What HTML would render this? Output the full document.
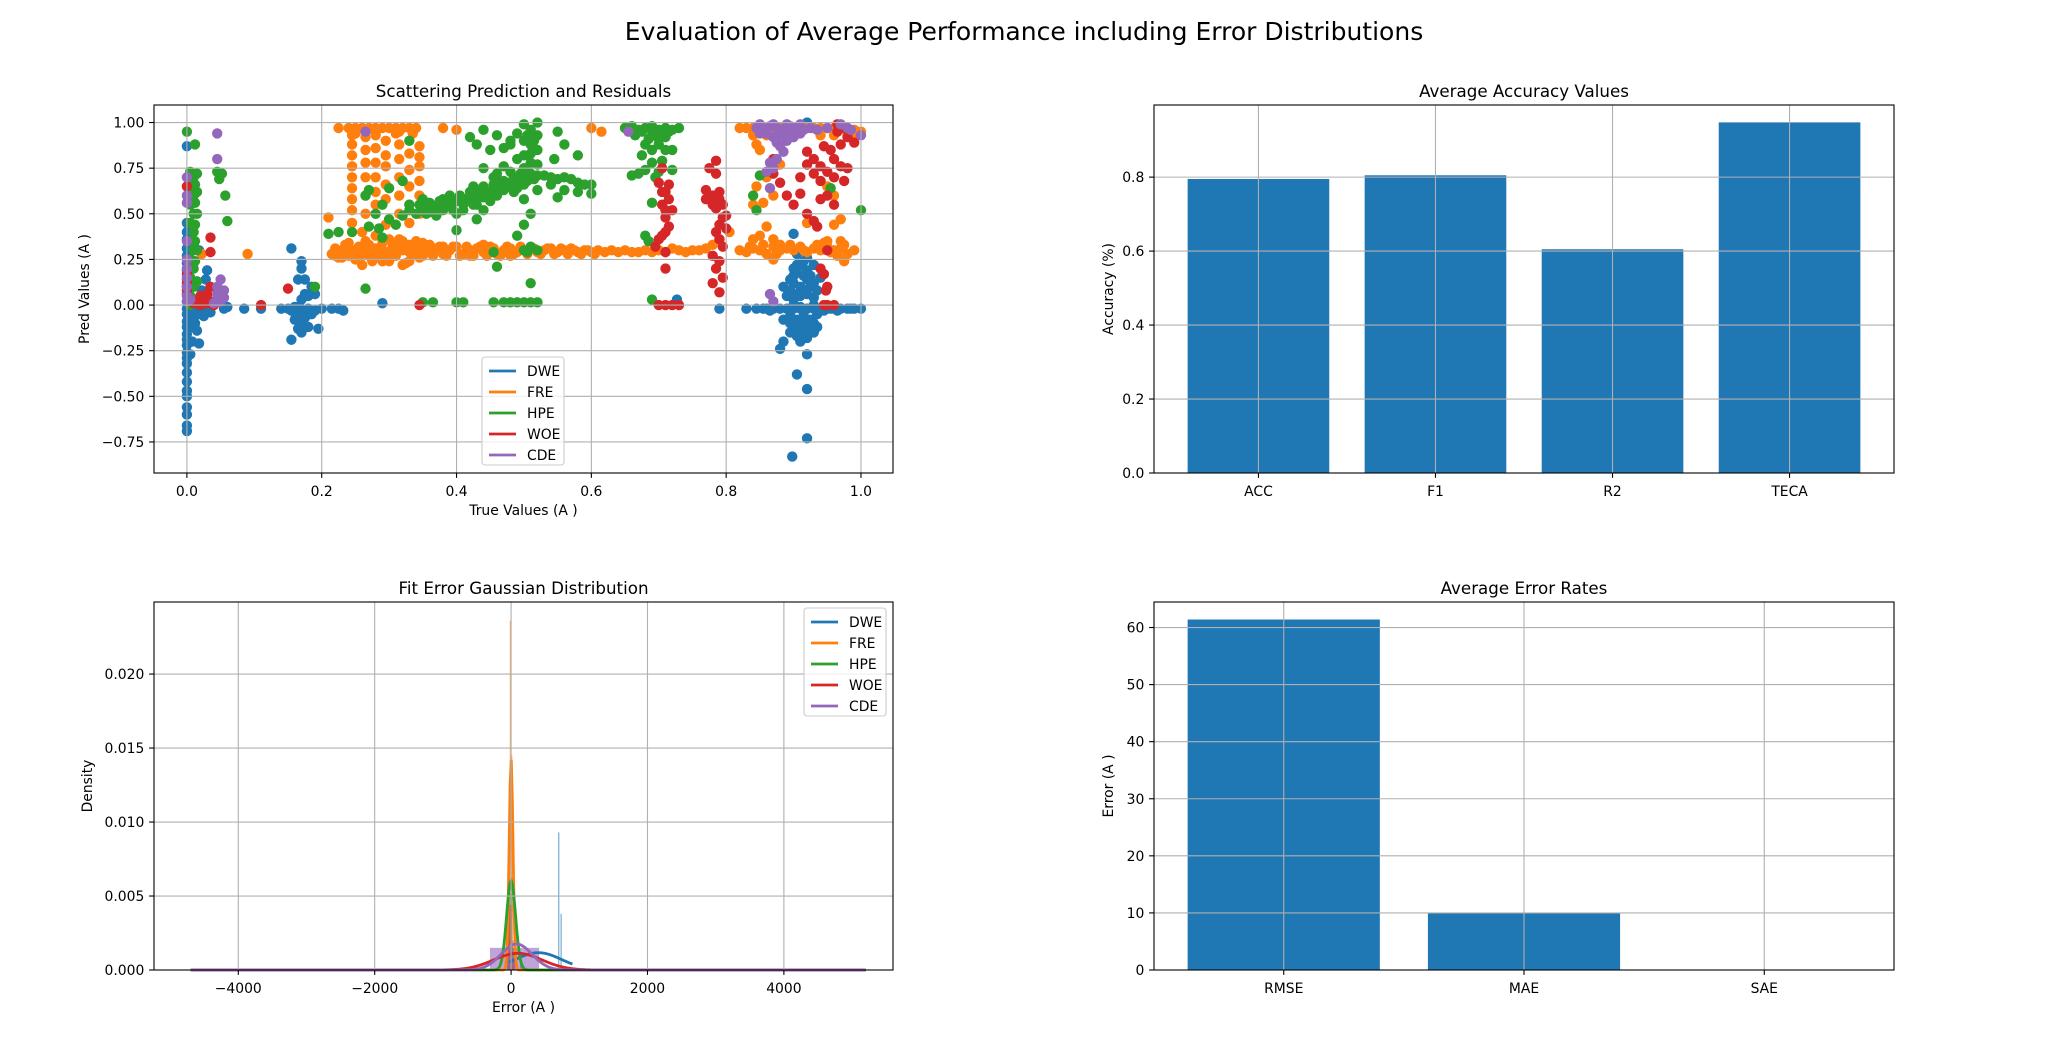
<!DOCTYPE html>
<html><head><meta charset="utf-8"><style>
html,body{margin:0;padding:0;background:#fff;}
svg{display:block;font-family:"DejaVu Sans","Liberation Sans",sans-serif;}
</style></head><body>
<svg id="fig" width="2048" height="1049" viewBox="0 0 2048 1049" xmlns="http://www.w3.org/2000/svg">
<rect width="2048" height="1049" fill="#fff"/>
<text x="1024" y="40" font-size="25" text-anchor="middle">Evaluation of Average Performance including Error Distributions</text>
<g id="ax1"></g>
<g id="ax2"></g>
<g id="ax3"></g>
<g id="ax4"></g>
</svg>
<script>
const NS="http://www.w3.org/2000/svg";
const COLORS=["#1f77b4","#ff7f0e","#2ca02c","#d62728","#9467bd"];
const seriesNames=["DWE","FRE","HPE","WOE","CDE"];

// ---- scatter data ----
const dwePts=[[0,-0.69],[0,-0.66],[0,-0.6],[0,-0.56],[0,-0.5],[0,-0.47],[0,-0.42],[0,-0.37],[0,-0.32],[0,-0.29],[0,-0.26],[0,-0.22],[0,-0.19],[0,-0.16],[0,-0.12],[0,-0.09],[0,-0.05],[0,-0.02],[0,0.02],[0,0.06],[0,0.1],[0,0.14],[0,0.19],[0,0.23],[0,0.27],[0,0.31],[0,0.36],[0,0.4],[0,0.45],[0,0.87],
[0.008,-0.04],[0.012,-0.1],[0.015,-0.14],[0.02,-0.05],[0.025,-0.06],[0.03,-0.03],[0.035,-0.04],[0.018,-0.21],[0.008,-0.2],[0.022,0.08],[0.03,0.19],[0.028,0.14],[0.018,0.3],[0.01,0.33],[0.005,-0.27],[0.01,-0.08],[0.006,-0.12],[0.015,-0.02],
[0.055,-0.02],[0.06,-0.01],[0.085,-0.02],[0.11,-0.02],
[0.14,-0.02],[0.15,-0.02],[0.16,-0.01],[0.17,-0.02],[0.18,-0.02],[0.19,-0.03],[0.2,-0.02],[0.155,-0.03],[0.165,-0.05],[0.16,-0.08],[0.17,-0.1],[0.165,-0.13],[0.17,-0.15],[0.155,-0.19],[0.18,-0.12],[0.17,0.03],[0.175,0.06],[0.165,0.14],[0.175,0.14],[0.17,0.2],[0.17,0.24],[0.155,0.31],[0.185,0.1],[0.19,0.06],[0.195,-0.13],[0.18,0.05],[0.175,-0.03],[0.165,-0.01],[0.16,-0.04],[0.175,-0.07],[0.185,-0.05],
[0.215,-0.02],[0.225,-0.02],[0.232,-0.03],[0.29,0.01],[0.727,0.03],[0.79,-0.02],
[0.83,-0.02],[0.845,-0.02],[0.86,-0.02],[0.87,-0.02],[0.88,-0.02],[0.89,-0.02],[0.9,-0.02],[0.91,-0.02],[0.92,-0.02],[0.93,-0.02],[0.94,-0.02],[0.95,-0.02],[0.96,-0.02],[0.97,-0.02],[0.98,-0.02],[0.99,-0.02],[1.0,-0.02],[0.855,-0.02],[0.865,-0.03],[0.945,-0.03],[0.955,-0.02],[0.965,-0.03],[0.985,-0.02],
[0.9,0.2],[0.91,0.22],[0.92,0.19],[0.9,0.12],[0.91,0.1],[0.92,0.14],[0.93,0.12],[0.89,0.05],[0.9,0.03],[0.91,0.05],[0.92,0.06],[0.93,0.04],[0.895,-0.06],[0.905,-0.08],[0.915,-0.06],[0.925,-0.08],[0.9,-0.12],[0.91,-0.14],[0.92,-0.11],[0.93,-0.1],[0.905,-0.17],[0.885,-0.2],[0.88,-0.24],[0.91,-0.2],[0.92,-0.18],[0.93,-0.15],[0.935,-0.05],[0.9,0.16],[0.92,0.26],[0.93,0.22],[0.9,0.39],[0.905,0.28],[0.94,0.15],[0.92,0.17],[0.905,-0.38],[0.92,-0.46],[0.92,-0.73],[0.898,-0.83],[0.92,-0.27],[0.92,1.0],[0.9,0.0],[0.91,-0.01],[0.92,-0.02],[0.93,0.0],[0.94,-0.03],
[0.895,0.08],[0.905,0.06],[0.915,0.08],[0.925,0.1],[0.895,0.14],[0.905,0.18],[0.915,0.16],[0.925,0.16],[0.895,-0.1],[0.905,-0.13],[0.915,-0.1],[0.925,-0.13],[0.935,-0.12],[0.895,-0.15],[0.915,-0.16],[0.885,-0.08],[0.885,0.1],[0.935,0.08],[0.905,0.22],[0.915,0.24]];
const frePts=[[0.215,0.28],[0.22,0.31],[0.225,0.26],[0.23,0.3],[0.235,0.33],[0.24,0.27],[0.245,0.3],[0.25,0.25],[0.255,0.32],[0.26,0.28],[0.265,0.35],[0.27,0.3],[0.275,0.24],[0.28,0.31],[0.285,0.27],[0.29,0.34],[0.295,0.29],[0.3,0.24],[0.305,0.32],[0.31,0.27],[0.315,0.36],[0.32,0.3],[0.325,0.23],[0.33,0.33],[0.335,0.28],[0.34,0.31],[0.345,0.26],[0.35,0.3],[0.36,0.29],[0.37,0.31],[0.38,0.28],[0.39,0.3],[0.4,0.32],[0.41,0.28],[0.42,0.3],[0.43,0.31],[0.44,0.29],[0.45,0.32],[0.46,0.28],[0.47,0.3],[0.48,0.31],[0.49,0.29],[0.5,0.3],[0.51,0.31],[0.52,0.29],[0.53,0.3],[0.54,0.31],[0.55,0.29],[0.56,0.3],[0.57,0.31],[0.58,0.29],[0.59,0.3],[0.6,0.29],[0.61,0.3],[0.62,0.29],[0.63,0.3],[0.64,0.29],[0.65,0.3],[0.66,0.29],[0.67,0.29],[0.68,0.3],[0.69,0.29],[0.7,0.3],[0.71,0.29],[0.72,0.31],[0.73,0.3],[0.74,0.29],[0.75,0.3],[0.76,0.3],[0.77,0.31],[0.78,0.33],[0.79,0.36],[0.805,0.4],
[0.365,0.27],[0.375,0.32],[0.385,0.27],[0.395,0.32],[0.405,0.27],[0.415,0.32],[0.425,0.27],[0.435,0.32],[0.445,0.27],[0.455,0.31],[0.465,0.27],[0.475,0.32],[0.485,0.28],[0.495,0.32],[0.505,0.28],[0.515,0.31],[0.525,0.28],[0.535,0.31],[0.545,0.28],[0.555,0.31],[0.565,0.28],[0.575,0.3],[0.585,0.28],[0.595,0.3],[0.605,0.28],
[0.23,0.26],[0.26,0.22],[0.3,0.36],[0.33,0.24],[0.28,0.38],[0.31,0.33],[0.24,0.34],[0.35,0.27],[0.26,0.4],[0.32,0.22],[0.29,0.24],[0.27,0.33],[0.36,0.33],[0.38,0.32],[0.42,0.27],[0.44,0.33],[0.48,0.27],[0.22,0.27],[0.25,0.29],[0.27,0.27],[0.29,0.3],[0.31,0.3],[0.33,0.29],[0.34,0.35],[0.32,0.35],[0.3,0.27],[0.28,0.26],[0.26,0.32],[0.24,0.3],[0.35,0.34],
[0.245,0.45],[0.245,0.52],[0.245,0.58],[0.245,0.64],[0.245,0.7],[0.245,0.76],[0.245,0.82],[0.245,0.88],[0.245,0.93],
[0.265,0.5],[0.265,0.6],[0.265,0.7],[0.265,0.78],[0.265,0.85],[0.265,0.92],
[0.28,0.55],[0.28,0.62],[0.28,0.7],[0.28,0.78],[0.28,0.86],[0.28,0.93],
[0.295,0.44],[0.295,0.58],[0.295,0.66],[0.295,0.76],[0.295,0.82],[0.295,0.9],
[0.315,0.5],[0.315,0.6],[0.315,0.7],[0.315,0.8],[0.315,0.88],[0.315,0.95],
[0.33,0.45],[0.33,0.55],[0.33,0.65],[0.33,0.74],[0.33,0.83],
[0.345,0.5],[0.345,0.6],[0.345,0.68],[0.345,0.76],[0.345,0.81],[0.345,0.87],
[0.225,0.97],[0.24,0.97],[0.25,0.97],[0.26,0.97],[0.27,0.97],[0.28,0.97],[0.29,0.97],[0.3,0.97],[0.31,0.97],[0.32,0.97],[0.33,0.97],[0.34,0.97],[0.25,0.94],[0.28,0.94],[0.31,0.94],[0.335,0.94],
[0.21,0.48],[0.38,0.97],[0.4,0.96],[0.6,0.97],[0.615,0.95],[0.09,0.28],[0.022,0.28],[0.65,0.97],
[0.82,0.3],[0.83,0.29],[0.84,0.31],[0.85,0.3],[0.86,0.28],[0.87,0.32],[0.88,0.3],[0.89,0.31],[0.9,0.3],[0.91,0.32],[0.92,0.29],[0.93,0.31],[0.94,0.3],[0.95,0.32],[0.96,0.3],[0.97,0.31],[0.98,0.28],[0.99,0.3],[0.975,0.24],[0.965,0.27],[0.85,0.38],[0.84,0.36],[0.87,0.36],[0.88,0.33],[0.86,0.43],[0.87,0.25],[0.95,0.35],[0.97,0.35],[0.96,0.44],[0.92,0.45],[0.97,0.47],[0.96,0.6],[0.95,0.65],[0.84,0.55],[0.845,0.65],[0.86,0.7],[0.855,0.56],[0.87,0.6],[0.88,0.77],
[0.835,0.32],[0.855,0.33],[0.875,0.28],[0.895,0.33],[0.915,0.3],[0.935,0.33],[0.955,0.29],[0.975,0.33],[0.945,0.34],
[0.82,0.97],[0.83,0.97],[0.84,0.97],[0.85,0.97],[0.86,0.97],[0.87,0.97],[0.88,0.97],[0.89,0.97],[0.9,0.97],[0.91,0.97],[0.92,0.97],[0.93,0.97],[0.94,0.97],[0.95,0.97],[0.96,0.97],[0.97,0.97],[0.98,0.97],[0.99,0.96],[1.0,0.95],
[0.84,0.93],[0.86,0.93],[0.9,0.93],[0.94,0.93],[0.96,0.93],[0.98,0.93],[0.99,0.93],[0.845,0.88],[0.85,0.85]];
const hpePts=[[0.005,0.0],[0.005,0.05],[0.01,0.1],[0.005,0.15],[0.01,0.2],[0.005,0.25],[0.01,0.3],[0.005,0.35],[0.01,0.4],[0.005,0.45],[0.01,0.5],[0.005,0.55],[0.01,0.6],[0.005,0.65],[0.01,0.7],[0.005,0.73],[0.015,0.72],[0.015,0.5],[0.015,0.3],[0.015,0.13],[0.0,0.95],[0.012,0.88],[0.015,0.62],[0.012,0.35],[0.012,0.44],[0.012,0.56],[0.012,0.66],[0.012,0.24],
[0.045,0.73],[0.052,0.72],[0.048,0.69],[0.057,0.6],[0.06,0.46],
[0.19,0.1],[0.21,0.39],[0.225,0.4],[0.245,0.4],[0.265,0.09],[0.27,0.63],[0.265,0.6],[0.28,0.5],[0.27,0.43],[0.285,0.42],[0.29,0.37],[0.3,0.64],[0.3,0.47],[0.29,0.55],[0.32,0.68],[0.33,0.9],[0.31,0.44],
[0.32,0.49],[0.33,0.52],[0.34,0.5],[0.35,0.53],[0.36,0.51],[0.37,0.54],[0.38,0.52],[0.39,0.55],[0.4,0.57],[0.41,0.55],[0.42,0.58],[0.43,0.6],[0.44,0.59],[0.45,0.62],[0.46,0.64],[0.47,0.63],[0.48,0.67],[0.49,0.69],[0.5,0.7],[0.51,0.72],[0.52,0.71],[0.35,0.58],[0.37,0.49],[0.39,0.6],[0.41,0.52],[0.43,0.55],[0.45,0.57],[0.47,0.68],[0.49,0.64],[0.44,0.65],[0.4,0.5],[0.36,0.56],[0.33,0.55],[0.38,0.58],[0.42,0.62],[0.46,0.6],[0.5,0.66],[0.48,0.73],[0.46,0.72],[0.44,0.75],[0.47,0.76],
[0.345,0.55],[0.355,0.5],[0.365,0.54],[0.375,0.57],[0.385,0.55],[0.395,0.52],[0.405,0.6],[0.415,0.58],[0.425,0.55],[0.435,0.63],[0.445,0.62],[0.455,0.66],[0.465,0.67],[0.475,0.65],[0.485,0.7],[0.495,0.72],[0.505,0.68],[0.515,0.69],[0.425,0.65],[0.455,0.7],[0.485,0.62],
[0.53,0.71],[0.54,0.7],[0.55,0.69],[0.56,0.7],[0.57,0.69],[0.58,0.67],[0.59,0.66],[0.6,0.66],[0.54,0.66],[0.56,0.63],[0.58,0.62],[0.52,0.63],[0.55,0.59],[0.6,0.61],
[0.51,0.78],[0.5,0.82],[0.52,0.85],[0.51,0.88],[0.5,0.9],[0.52,0.93],[0.51,0.96],[0.5,0.99],[0.52,1.0],[0.49,0.94],[0.48,0.9],[0.47,0.86],[0.49,0.8],[0.5,0.58],[0.51,0.5],[0.5,0.44],[0.49,0.38],[0.51,0.32],[0.5,0.3],[0.48,0.88],[0.46,0.93],[0.44,0.96],[0.45,0.85],[0.43,0.88],[0.42,0.92],[0.55,0.95],[0.56,0.88],[0.58,0.82],[0.545,0.8],[0.51,0.83],[0.52,0.77],[0.505,0.93],[0.515,0.9],[0.5,0.75],
[0.4,0.41],[0.43,0.47],[0.44,0.52],[0.455,0.29],[0.46,0.21],[0.51,0.12],
[0.35,0.015],[0.365,0.015],[0.4,0.015],[0.41,0.015],[0.455,0.015],[0.47,0.015],[0.48,0.015],[0.49,0.015],[0.5,0.015],[0.51,0.015],[0.52,0.015],
[0.65,0.97],[0.66,0.98],[0.67,0.96],[0.68,0.97],[0.69,0.98],[0.7,0.96],[0.71,0.97],[0.72,0.96],[0.73,0.97],[0.665,0.93],[0.69,0.93],[0.71,0.92],[0.68,0.88],[0.69,0.85],[0.675,0.82],[0.69,0.78],[0.68,0.74],[0.67,0.72],[0.66,0.71],[0.7,0.73],[0.71,0.85],[0.7,0.88],[0.72,0.85],[0.705,0.79],[0.695,0.7],[0.69,0.56],[0.68,0.38],[0.685,0.35],[0.69,0.03],[0.72,0.74],[0.675,0.95],[0.695,0.95],[0.715,0.95],[0.685,0.91],[0.7,0.91],
[0.84,0.6],[0.845,0.52],[0.85,0.71],[1.0,0.52],[0.955,0.64],[0.505,0.29],[0.52,0.3]];
const woePts=[[0.0,0.65],[0.0,0.17],[0.0,0.12],[0.0,0.08],[0.005,0.03],[0.01,0.01],[0.015,0.02],[0.02,0.0],[0.025,0.03],[0.03,0.01],[0.035,0.02],[0.04,0.0],[0.02,0.05],[0.03,0.06],[0.035,0.29],[0.035,0.37],[0.035,0.1],
[0.11,0.0],[0.15,0.09],[0.345,0.0],
[0.7,0.0],[0.71,0.0],[0.72,0.0],[0.73,0.0],[0.705,0.75],[0.7,0.67],[0.71,0.62],[0.715,0.58],[0.705,0.55],[0.72,0.52],[0.71,0.48],[0.715,0.43],[0.705,0.38],[0.7,0.36],[0.71,0.29],[0.695,0.32],[0.71,0.2],[0.71,0.4],[0.705,0.62],[0.715,0.66],[0.71,0.52],
[0.785,0.79],[0.775,0.75],[0.785,0.72],[0.77,0.63],[0.78,0.6],[0.79,0.58],[0.77,0.58],[0.785,0.53],[0.795,0.48],[0.79,0.44],[0.8,0.42],[0.79,0.36],[0.795,0.32],[0.78,0.27],[0.79,0.24],[0.785,0.2],[0.795,0.15],[0.78,0.12],[0.79,0.07],[0.8,0.49],[0.785,0.4],[0.78,0.55],[0.79,0.62],[0.795,0.55],
[0.87,0.8],[0.87,0.72],[0.88,0.67],[0.89,0.6],[0.9,0.55],[0.91,0.7],[0.92,0.77],[0.93,0.8],[0.94,0.76],[0.95,0.73],[0.96,0.8],[0.97,0.88],[0.98,0.92],[0.99,0.89],[0.93,0.72],[0.94,0.68],[0.95,0.6],[0.91,0.61],[0.92,0.5],[0.93,0.46],[0.935,0.43],[0.96,0.7],[0.97,0.76],[0.98,0.75],[0.975,0.68],[0.955,0.85],[0.945,0.87],[0.965,0.95],[0.92,0.84],[0.94,0.58],[0.96,0.55],[0.95,0.3],[0.945,0.17],[0.94,0.2],[0.95,0.1],[0.948,0.08],[0.95,0.0],[0.96,0.0],[0.945,0.0],[0.975,0.97],[0.965,0.99]];
const cdePts=[[0.0,0.7],[0.0,0.6],[0.0,0.56],[0.0,0.35],[0.0,0.25],[0.0,0.2],[0.0,0.15],[0.0,0.1],[0.0,0.05],[0.0,0.02],[0.005,0.03],
[0.045,0.94],[0.045,0.8],[0.05,0.14],[0.045,0.1],[0.05,0.07],[0.055,0.04],[0.045,0.03],[0.04,0.01],[0.05,0.02],[0.055,0.08],[0.045,0.06],
[0.265,0.95],[0.655,0.95],
[0.845,0.97],[0.855,0.96],[0.865,0.98],[0.875,0.97],[0.885,0.96],[0.895,0.98],[0.905,0.97],[0.915,0.96],[0.925,0.97],[0.86,0.94],[0.87,0.92],[0.88,0.93],[0.89,0.9],[0.9,0.92],[0.88,0.87],[0.885,0.84],[0.875,0.8],[0.865,0.78],[0.87,0.75],[0.86,0.73],[0.935,0.96],[0.95,0.97],[0.97,0.99],[0.98,0.97],[1.0,0.93],[0.985,0.96],[0.865,0.64],[0.865,0.06],[0.87,0.02],[0.89,0.94],[0.91,0.94],
[0.85,0.99],[0.87,0.99],[0.89,0.99],[0.91,0.99],[0.85,0.94],[0.875,0.89],[0.895,0.95],[0.905,0.94],[0.88,0.96],[0.86,0.96]];
const scatterXTicks=[0,0.2,0.4,0.6,0.8,1.0];
const scatterYTicks=[-0.75,-0.5,-0.25,0,0.25,0.5,0.75,1.0];

// ---- accuracy bars ----
const accCats=["ACC","F1","R2","TECA"];
const accVals=[0.795,0.805,0.605,0.948];
const accTicks=[0,0.2,0.4,0.6,0.8];
// ---- error bars ----
const errCats=["RMSE","MAE","SAE"];
const errVals=[61.4,9.9,0.0];
const errTicks=[0,10,20,30,40,50,60];
// ---- gaussian fit ----
const fitMeans=[400,0,0,100,80];
const fitStds=[341,28,66,353,227];
const fitFrom=[-30,-4700,-4700,-4700,-4700];
const fitTo=[900,5200,5200,5200,5200];
const histLefts=[[130,690,725],[-40,-20,-8,0,20],[-60,-20,20],[-60,-20,20],[-310,-70,170]];
const histWidths=[[25,12,12],[20,12,8,20,20],[40,40,40],[40,40,40],[240,240,240]];
const histHeights=[[0.0012,0.0093,0.0038],[0.002,0.0236,0.0145,0.0145,0.002],[0.0052,0.0052,0.0015],[0.0044,0.0044,0.0008],[0.0015,0.0015,0.0015]];
const kdeXTicks=[-4000,-2000,0,2000,4000];
const kdeYTicks=[0,0.005,0.010,0.015,0.020];

function el(tag,attrs,parent){const e=document.createElementNS(NS,tag);for(const k in attrs)e.setAttribute(k,attrs[k]);if(parent)parent.appendChild(e);return e;}
function fmtMinus(s){return s.replace("-","\u2212");}

function axes(g,box,xr,yr){
  const sx=v=>box.x0+(v-xr[0])/(xr[1]-xr[0])*(box.x1-box.x0);
  const sy=v=>box.y1-(v-yr[0])/(yr[1]-yr[0])*(box.y1-box.y0);
  return {sx,sy};
}
function frame(g,box,title,xl,yl,xt,xlab,yt,ylab,sx,sy){
  const grid=el("g",{},g);
  
  
  xt.forEach(v=>el("line",{x1:sx(v),x2:sx(v),y1:box.y0,y2:box.y1,stroke:"#b0b0b0","stroke-width":1.1},grid));
  yt.forEach(v=>el("line",{x1:box.x0,x2:box.x1,y1:sy(v),y2:sy(v),stroke:"#b0b0b0","stroke-width":1.1},grid));
  el("rect",{x:box.x0,y:box.y0,width:box.x1-box.x0,height:box.y1-box.y0,fill:"none",stroke:"#000","stroke-width":1.1},g);
  xt.forEach((v,i)=>{el("line",{x1:sx(v),x2:sx(v),y1:box.y1,y2:box.y1+4.9,stroke:"#000","stroke-width":1.1},g);
    const t=el("text",{x:sx(v),y:box.y1+23,"font-size":13.9,"text-anchor":"middle"},g);t.textContent=xlab[i];
    
    });
  yt.forEach((v,i)=>{el("line",{x1:box.x0-4.9,x2:box.x0,y1:sy(v),y2:sy(v),stroke:"#000","stroke-width":1.1},g);
    const t=el("text",{x:box.x0-9.7,y:sy(v)+5,"font-size":13.9,"text-anchor":"end"},g);t.textContent=ylab[i];
    
    });
  const tt=el("text",{x:(box.x0+box.x1)/2,y:box.y0-8,"font-size":16.7,"text-anchor":"middle"},g);tt.textContent=title;
  
  
  if(xl){const t=el("text",{x:(box.x0+box.x1)/2,y:box.y1+42,"font-size":13.9,"text-anchor":"middle"},g);t.textContent=xl;
    
    }
  if(yl){const cx=yl[1],cy=(box.y0+box.y1)/2;const t=el("text",{x:cx,y:cy,"font-size":13.9,"text-anchor":"middle",transform:`rotate(-90 ${cx} ${cy})`},g);t.textContent=yl[0];
    
    }
  return grid;
}
function legend(g,x,y,w){
  const lg=el("g",{},g);
  
  
  el("rect",{x:x,y:y,width:w,height:108,rx:3,fill:"#fff","fill-opacity":0.8,stroke:"#ccc","stroke-width":1.1},lg);
  seriesNames.forEach((n,i)=>{
    const yy=y+14+i*21;
    el("line",{x1:x+7,x2:x+34,y1:yy,y2:yy,stroke:COLORS[i],"stroke-width":2.8},lg);
    const t=el("text",{x:x+45,y:yy+5,"font-size":13.9},lg);t.textContent=n;
    
    
  });
}

// Panel 1: scatter
(function(){
  const g=document.getElementById("ax1");
  const box={x0:154,x1:893,y0:105,y1:473};
  const {sx,sy}=axes(g,box,[-0.0488,1.0475],[-0.92,1.096]);
  const marks=el("g",{},g);
  [dwePts,frePts,hpePts,woePts,cdePts].forEach((pts,si)=>{
    pts.forEach(p=>{const c=el("circle",{cx:sx(p[0]),cy:sy(p[1]),r:5.2,fill:COLORS[si]},marks);
      
      });
  });
  frame(g,box,"Scattering Prediction and Residuals","True Values (A  )",["Pred Values (A  )",89],
    scatterXTicks,scatterXTicks.map(v=>v.toFixed(1)),scatterYTicks,scatterYTicks.map(v=>fmtMinus(v.toFixed(2))),sx,sy);
  legend(g,482,357,82);
})();

// Panel 2: accuracy
(function(){
  const g=document.getElementById("ax2");
  const box={x0:1154,x1:1894,y0:105,y1:473};
  const {sx,sy}=axes(g,box,[-0.59,3.59],[0,0.995]);
  accVals.forEach((v,i)=>{const r=el("rect",{x:sx(i-0.4),y:sy(v),width:sx(0.4)-sx(-0.4),height:sy(0)-sy(v),fill:"#1f77b4"},g);
    
    });
  frame(g,box,"Average Accuracy Values",null,["Accuracy (%)",1113],
    accCats.map((c,i)=>i),accCats,accTicks,accTicks.map(v=>v.toFixed(1)),sx,sy);
})();

// Panel 3: gaussian
(function(){
  const g=document.getElementById("ax3");
  const box={x0:154,x1:893,y0:602,y1:970};
  const {sx,sy}=axes(g,box,[-5236,5600],[0,0.02487]);
  const hg=el("g",{},g);
  histLefts.forEach((ls,si)=>ls.forEach((l,j)=>{
    const h=histHeights[si][j];
    const r=el("rect",{x:sx(l),y:sy(h),width:Math.max(1.2,sx(l+histWidths[si][j])-sx(l)),height:sy(0)-sy(h),fill:COLORS[si],"fill-opacity":0.6},hg);
    
    
  }));
  fitMeans.forEach((m,si)=>{
    const s=fitStds[si];let d="";
    const a=fitFrom[si],b=fitTo[si],n=600;
    for(let k=0;k<=n;k++){const x=a+(b-a)*k/n;const y=Math.exp(-0.5*((x-m)/s)**2)/(s*Math.sqrt(2*Math.PI));d+=(k?"L":"M")+sx(x).toFixed(2)+","+sy(y).toFixed(2);}
    const p=el("path",{d:d,fill:"none",stroke:COLORS[si],"stroke-width":2.8},g);
    
    
  });
  frame(g,box,"Fit Error Gaussian Distribution","Error (A  )",["Density",92],
    kdeXTicks,kdeXTicks.map(v=>fmtMinus(String(v))),kdeYTicks,kdeYTicks.map(v=>v.toFixed(3)),sx,sy);
  legend(g,804,608,82);
})();

// Panel 4: error rates
(function(){
  const g=document.getElementById("ax4");
  const box={x0:1154,x1:1894,y0:602,y1:970};
  const {sx,sy}=axes(g,box,[-0.54,2.54],[0,64.47]);
  errVals.forEach((v,i)=>{const r=el("rect",{x:sx(i-0.4),y:sy(v),width:sx(0.4)-sx(-0.4),height:sy(0)-sy(v),fill:"#1f77b4"},g);
    
    });
  frame(g,box,"Average Error Rates",null,["Error (A  )",1113],
    errCats.map((c,i)=>i),errCats,errTicks,errTicks.map(v=>String(v)),sx,sy);
})();
</script>
</body></html>
